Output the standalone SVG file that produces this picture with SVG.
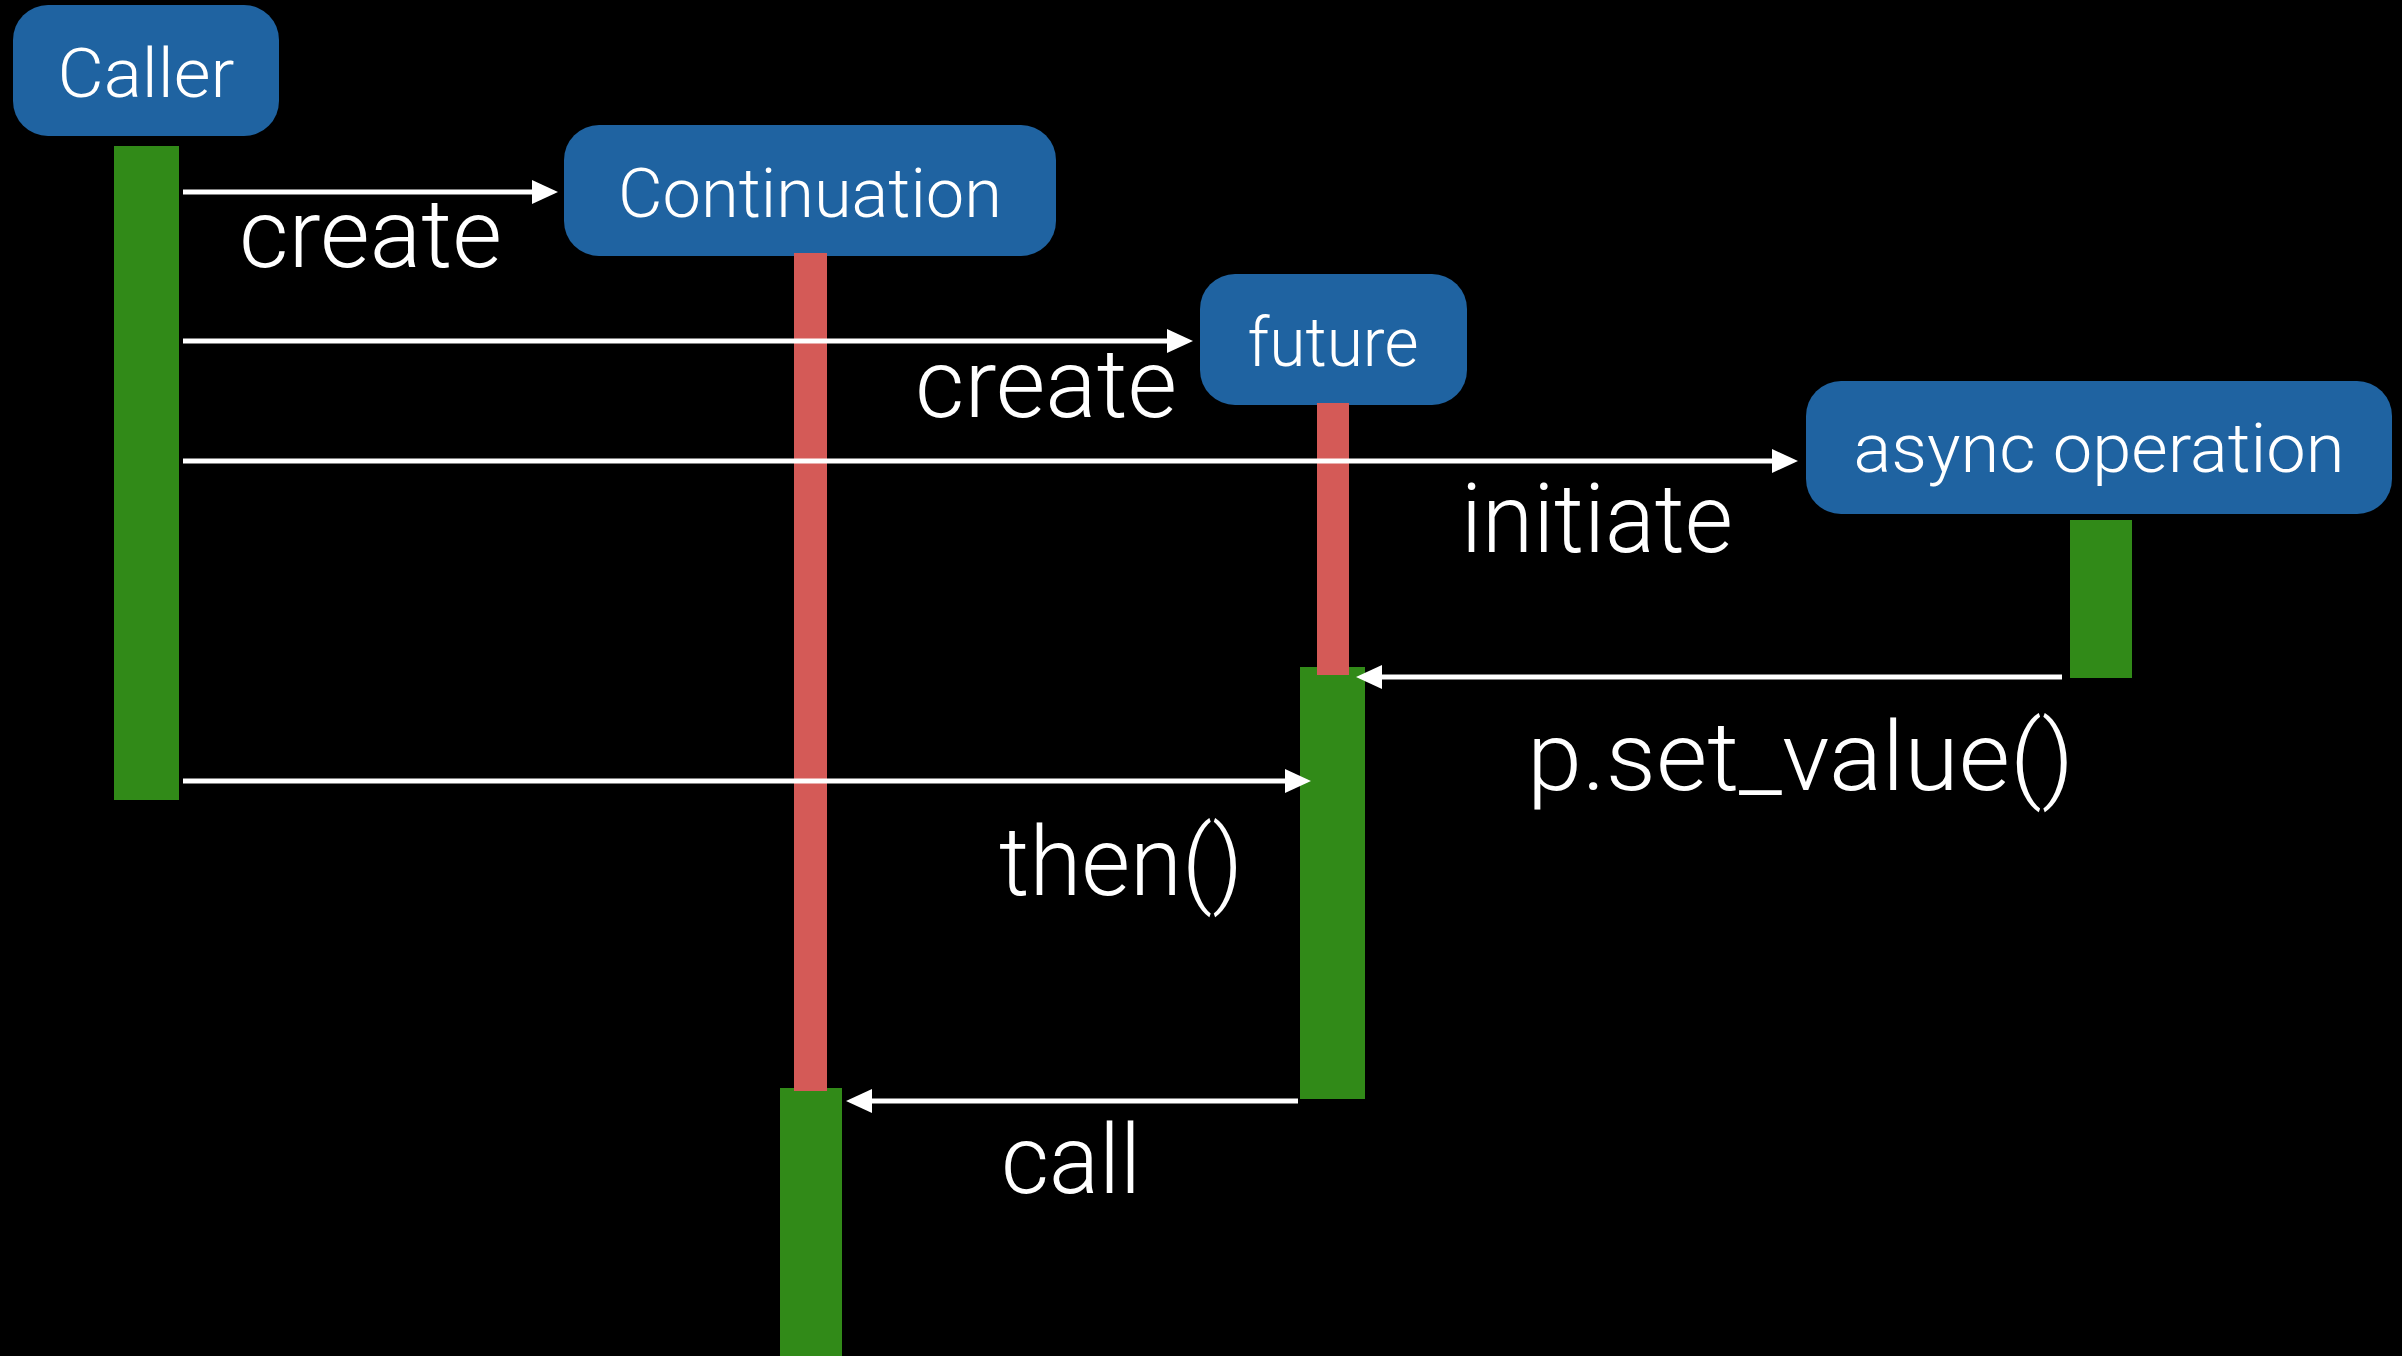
<svg xmlns="http://www.w3.org/2000/svg" width="2402" height="1356" viewBox="0 0 2402 1356">
  <style>
    .head { fill: #1f63a1; }
    .name { fill: #ffffff; font-family: Roboto, "Liberation Sans", Arial, sans-serif; font-weight: 300; font-size: 68px; text-anchor: middle; }
    .label { fill: #ffffff; font-family: Roboto, "Liberation Sans", Arial, sans-serif; font-weight: 300; font-size: 96px; }
    .active { fill: #318a18; }
    .idle { fill: #d45a57; }
    .msg { stroke: #ffffff; stroke-width: 5; fill: none; marker-end: url(#arrow); }
  </style>
  <defs>
    <marker id="arrow" markerUnits="userSpaceOnUse" markerWidth="26" markerHeight="24" refX="16" refY="12" orient="auto">
      <path d="M0,0 L26,12 L0,24 Z" fill="#ffffff"/>
    </marker>
  </defs>

  <rect width="2402" height="1356" fill="#000000"/>

  <!-- Caller lifeline -->
  <g id="caller">
    <rect class="head" x="13" y="5" width="266" height="131" rx="35"/>
    <text class="name" x="146" y="97" textLength="177" lengthAdjust="spacingAndGlyphs">Caller</text>
    <rect class="active" x="114" y="146" width="65" height="654"/>
  </g>

  <!-- Continuation lifeline -->
  <g id="continuation">
    <rect class="head" x="564" y="125" width="492" height="131" rx="35"/>
    <text class="name" x="810" y="217" textLength="384" lengthAdjust="spacingAndGlyphs">Continuation</text>
    <rect class="active" x="780" y="1088" width="62" height="268"/>
    <rect class="idle" x="794" y="253" width="33" height="838"/>
  </g>

  <!-- future lifeline -->
  <g id="future">
    <rect class="head" x="1200" y="274" width="267" height="131" rx="35"/>
    <text class="name" x="1333" y="366" textLength="171" lengthAdjust="spacingAndGlyphs">future</text>
    <rect class="active" x="1300" y="667" width="65" height="432"/>
    <rect class="idle" x="1317" y="403" width="32" height="272"/>
  </g>

  <!-- async operation lifeline -->
  <g id="async-operation">
    <rect class="head" x="1806" y="381" width="586" height="133" rx="35"/>
    <text class="name" x="2099" y="472" textLength="491" lengthAdjust="spacingAndGlyphs">async operation</text>
    <rect class="active" x="2070" y="520" width="62" height="158"/>
  </g>

  <!-- messages -->
  <g id="connectors">
    <line class="msg" x1="183" y1="192" x2="548" y2="192"/>
    <line class="msg" x1="183" y1="341" x2="1183" y2="341"/>
    <line class="msg" x1="183" y1="461" x2="1788" y2="461"/>
    <line class="msg" x1="2062" y1="677" x2="1366" y2="677"/>
    <line class="msg" x1="183" y1="781" x2="1301" y2="781"/>
    <line class="msg" x1="1298" y1="1101" x2="856" y2="1101"/>

    <text class="label" x="239" y="267" textLength="263" lengthAdjust="spacingAndGlyphs">create</text>
    <text class="label" x="915" y="417" textLength="262" lengthAdjust="spacingAndGlyphs">create</text>
    <text class="label" x="1461" y="552" textLength="272" lengthAdjust="spacingAndGlyphs">initiate</text>
    <text class="label" x="1527" y="790" textLength="547" lengthAdjust="spacingAndGlyphs">p.set_value()</text>
    <text class="label" x="999" y="895" textLength="244" lengthAdjust="spacingAndGlyphs">then()</text>
    <text class="label" x="1001" y="1193" textLength="140" lengthAdjust="spacingAndGlyphs">call</text>
  </g>
</svg>
